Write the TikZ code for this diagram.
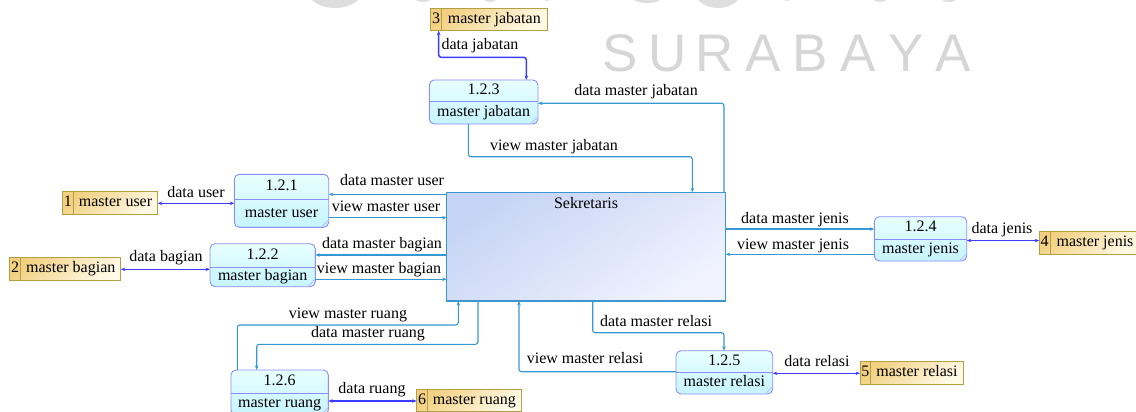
\documentclass[tikz,border=0pt]{standalone}
\usepackage{fontspec}
\setmainfont{Liberation Serif}
\newfontfamily\lblfont{Liberation Serif}
\newfontfamily\wmfont{Liberation Sans}
\usetikzlibrary{arrows.meta}

\definecolor{flowblue}{RGB}{54,152,210}
\definecolor{storeblue}{RGB}{60,60,255}
\definecolor{procedge}{RGB}{140,140,255}
\definecolor{proctop}{RGB}{232,255,255}
\definecolor{procbot}{RGB}{198,244,255}
\definecolor{sekedge}{RGB}{60,150,210}
\definecolor{sektop}{RGB}{198,212,245}
\definecolor{sekbot}{RGB}{240,242,254}
\definecolor{storeedge}{RGB}{178,160,70}
\definecolor{storetop}{RGB}{242,208,128}
\definecolor{storebot}{RGB}{255,249,230}
\definecolor{wmgray}{RGB}{214,214,214}

\tikzset{
  lbl/.style={inner sep=0pt, outer sep=0pt, text height=11pt, text depth=3.5pt,
    font=\lblfont\fontsize{16}{18}\selectfont},
  flowline/.style={draw=flowblue, line width=1.1pt, rounded corners=2.5pt},
  storeline/.style={draw=storeblue, line width=1.5pt, rounded corners=2.5pt},
  endtip/.style={-{Stealth[length=4.5pt,width=3.5pt]}},
  bothtips/.style={{Stealth[length=4.5pt,width=3.5pt]}-{Stealth[length=4.5pt,width=3.5pt]}},
  procshape/.style={draw=procedge, line width=0.9pt, rounded corners=5pt,
    top color=proctop, bottom color=procbot, inner sep=0pt, outer sep=0pt},
  procdiv/.style={draw=procedge, line width=0.9pt},
  cornermark/.style={draw=procedge!70, line width=0.6pt},
  sekshape/.style={draw=sekedge, line width=1.1pt, top color=sektop, bottom color=sekbot,
    shading angle=35, inner sep=0pt, outer sep=0pt},
  storeshape/.style={draw=storeedge, line width=0.9pt, top color=storetop, bottom color=storebot,
    shading angle=40, inner sep=0pt, outer sep=0pt},
  storediv/.style={draw=storeedge, line width=0.9pt},
  wmletter/.style={inner sep=0pt, anchor=base, text=wmgray,
    font=\wmfont\fontsize{53}{56}\selectfont},
}

% process: name, left, top, right, bottom, divider y, number, title
\newcommand\ProcBox[8]{%
  \node[procshape, anchor=north west, minimum width={(#4-#2)*1pt},
        minimum height={(#5-#3)*1pt}] (#1) at (#2,#3) {};
  \draw[procdiv] (#2,#6) -- (#4,#6);
  \draw[cornermark] ({#4-7},{#5-0.5}) -- ({#4-0.5},{#5-7});
  \node[lbl] (#1-num) at ({(#2+#4)/2},{(#3+#6)/2}) {#7};
  \node[lbl] (#1-txt) at ({(#2+#4)/2},{(#6+#5)/2}) {#8};
}

% data store: name, left, top, right, bottom, divider x, number, title
\newcommand\StoreBox[8]{%
  \node[storeshape, anchor=north west, minimum width={(#4-#2)*1pt},
        minimum height={(#5-#3)*1pt}] (#1) at (#2,#3) {};
  \draw[storediv] (#6,#3) -- (#6,#5);
  \node[lbl] (#1-num) at ({(#2+#6)/2},{(#3+#5)/2}) {#7};
  \node[lbl] (#1-txt) at ({(#6+#4)/2},{(#3+#5)/2}) {#8};
}

\begin{document}
\begin{tikzpicture}[x=1pt, y=-1pt]
\path[use as bounding box] (0,0) rectangle (1136,412);
\begin{scope}
\clip (0,0) rectangle (1136,412);

% faint background emblem
\fill[wmgray!80] (335,-10) ellipse [x radius=28, y radius=18];
\fill[wmgray!80] (718,-10) ellipse [x radius=24, y radius=18];
\fill[wmgray!80] (423,-3) ellipse [x radius=9, y radius=5];
\fill[wmgray!80] (490,-3) ellipse [x radius=7, y radius=5];
\fill[wmgray!80] (547,-3) ellipse [x radius=5, y radius=4];
\fill[wmgray!80] (647,-4) ellipse [x radius=16, y radius=7];
\fill[wmgray!80] (787,-3) ellipse [x radius=5, y radius=4];
\fill[wmgray!80] (880,-4) ellipse [x radius=9, y radius=6];
\fill[wmgray!80] (949,-4) ellipse [x radius=9, y radius=6];
\foreach \ch/\cx [count=\i] in {S/620,U/668,R/715,A/763,B/810,A/858,Y/906,A/953}
  \node[wmletter] (wm\i) at (\cx,72) {\ch};

% central entity
\node[sekshape, anchor=north west, minimum width=279pt, minimum height=108.7pt]
  (sek) at (446.7,192.3) {};
\node[lbl] (sek-txt) at (586,204.5) {Sekretaris};

% processes
\ProcBox{p121}{234.3}{174.3}{328.7}{227.3}{199.7}{1.2.1}{master user}
\ProcBox{p122}{210}{243.7}{315.3}{286.7}{267}{1.2.2}{master bagian}
\ProcBox{p123}{429.3}{80}{538}{124}{101.7}{1.2.3}{master jabatan}
\ProcBox{p124}{874.3}{216.7}{966.7}{261}{239}{1.2.4}{master jenis}
\ProcBox{p125}{676}{350.7}{772.7}{394}{372}{1.2.5}{master relasi}
\ProcBox{p126}{231}{370}{328.3}{415}{393.3}{1.2.6}{master ruang}

% data stores
\StoreBox{d1}{62.3}{191.7}{157.7}{214}{73.3}{1}{master user}
\StoreBox{d2}{9.3}{257.5}{120.7}{280.5}{20.7}{2}{master bagian}
\StoreBox{d3}{430.7}{8.3}{547}{30.7}{441.7}{3}{master jabatan}
\StoreBox{d4}{1039.3}{231.5}{1140}{254}{1050}{4}{master jenis}
\StoreBox{d5}{860}{361.5}{963.3}{384.5}{870.7}{5}{master relasi}
\StoreBox{d6}{416.7}{389.3}{521}{411.6}{427.7}{6}{master ruang}

% flows between stores and processes
\draw[storeline, bothtips] (d1.east |- 0,203.3) -- (p121.west |- 0,203.3);
\draw[storeline, bothtips] (d2.east |- 0,269.3) -- (p122.west |- 0,269.3);
\draw[storeline, bothtips] (d3.south -| 438.7,0) |- (526.3,57.3) -- (p123.north -| 526.3,0);
\draw[storeline, bothtips] (p124.east |- 0,240.5) -- (d4.west |- 0,240.5);
\draw[storeline, bothtips] (p125.east |- 0,373.3) -- (d5.west |- 0,373.3);
\draw[storeline, bothtips] (p126.east |- 0,401) -- (d6.west |- 0,401);

% flows between Sekretaris and processes
\draw[flowline, endtip] (sek.west |- 0,194.3) -- (p121.east |- 0,194.3);
\draw[flowline, endtip] (p121.east |- 0,217.7) -- (sek.west |- 0,217.7);
\draw[flowline, endtip] (sek.west |- 0,255) -- (p122.east |- 0,255);
\draw[flowline, endtip] (p122.east |- 0,279.3) -- (sek.west |- 0,279.3);
\draw[flowline, endtip] (sek.north -| 724,0) |- (p123.east |- 0,103.3);
\draw[flowline, endtip] (p123.south -| 468.3,0) |- (692.3,156.7) -- (sek.north -| 692.3,0);
\draw[flowline, endtip] (sek.east |- 0,229) -- (p124.west |- 0,229);
\draw[flowline, endtip] (p124.west |- 0,254.3) -- (sek.east |- 0,254.3);
\draw[flowline, endtip] (sek.south -| 592.7,0) |- (724,332.7) -- (p125.north -| 724,0);
\draw[flowline, endtip] (p125.west |- 0,371.7) -| (sek.south -| 519,0);
\draw[flowline, endtip] (p126.north -| 237.3,0) |- (458.3,325) -- (sek.south -| 458.3,0);
\draw[flowline, endtip] (sek.south -| 478,0) |- (256.7,344.3) -- (p126.north -| 256.7,0);

% flow labels
\node[lbl] (l-djab)  at (480,46)    {data jabatan};
\node[lbl] (l-dmjab) at (636,92)    {data master jabatan};
\node[lbl] (l-vmjab) at (554,147)   {view master jabatan};
\node[lbl] (l-duser) at (196,194)   {data user};
\node[lbl] (l-dmuser) at (392,181.5) {data master user};
\node[lbl] (l-vmuser) at (386,207.5) {view master user};
\node[lbl] (l-dbag)  at (166,257.5) {data bagian};
\node[lbl] (l-dmbag) at (382,245)   {data master bagian};
\node[lbl] (l-vmbag) at (379,270)   {view master bagian};
\node[lbl] (l-vmru)  at (348,314.5) {view master ruang};
\node[lbl] (l-dmru)  at (368,333.5) {data master ruang};
\node[lbl] (l-dru)   at (372,390)   {data ruang};
\node[lbl] (l-vmrel) at (585,360)   {view master relasi};
\node[lbl] (l-dmrel) at (656,322.5) {data master relasi};
\node[lbl] (l-drel)  at (817,363)   {data relasi};
\node[lbl] (l-dmjen) at (795,219.5) {data master jenis};
\node[lbl] (l-vmjen) at (793,245.5) {view master jenis};
\node[lbl] (l-djen)  at (1002,230)  {data jenis};
\end{scope}
\end{tikzpicture}
\end{document}
